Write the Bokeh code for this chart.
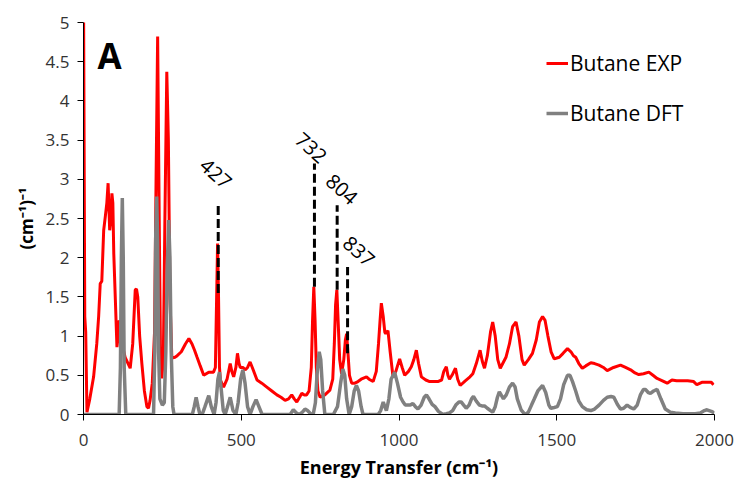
import math
from bokeh.plotting import figure
from bokeh.models import Range1d, FixedTicker, Legend
from bokeh.core.properties import value
from bokeh.embed import file_html
from bokeh.resources import INLINE

# ---------------- data ----------------
exp_x = [0, 4, 7, 11, 20, 32, 42, 48, 53, 58, 64, 69, 74, 78, 83, 87, 90, 93, 96, 101, 106, 110, 113, 118, 125,
         132, 148, 156, 164, 168, 172, 178, 185, 193, 201, 206, 211, 218, 225, 230, 235, 240, 244, 248, 253,
         258, 264, 269, 274, 280, 290, 297, 310, 323, 334, 344, 352, 360, 370, 381, 397, 412, 418, 422, 425,
         428, 431, 434, 444, 455, 465, 470, 476, 483, 488, 493, 497, 505, 513, 520, 528, 535, 550, 565, 581,
         597, 613, 626, 639, 650, 660, 668, 676, 685, 692, 700, 707, 715, 722, 726, 730, 734, 738, 743, 750,
         765, 781, 790, 795, 799, 803, 807, 812, 818, 825, 830, 834, 838, 843, 850, 860, 870, 880, 897, 905,
         918, 928, 935, 940, 944, 950, 955, 958, 965, 972, 981, 990, 1002, 1010, 1018, 1030, 1039, 1047, 1055,
         1062, 1071, 1085, 1097, 1110, 1123, 1135, 1142, 1150, 1155, 1160, 1168, 1179, 1186, 1194, 1210, 1225,
         1234, 1245, 1257, 1264, 1271, 1280, 1290, 1297, 1305, 1313, 1321, 1330, 1339, 1350, 1360, 1371, 1380,
         1390, 1397, 1410, 1423, 1435, 1445, 1455, 1463, 1472, 1482, 1492, 1500, 1508, 1520, 1534, 1545, 1553,
         1560, 1570, 1581, 1592, 1608, 1620, 1634, 1648, 1660, 1680, 1702, 1718, 1734, 1748, 1760, 1775, 1792,
         1805, 1818, 1835, 1850, 1865, 1880, 1897, 1915, 1934, 1944, 1960, 1981, 1990, 1997]
exp_y = [5.5, 1.25, 1.05, 0.03, 0.2, 0.48, 0.9, 1.25, 1.67, 1.7, 2.35, 2.52, 2.7, 2.95, 2.35, 2.5, 2.82, 2.7, 2.05,
         1.46, 0.86, 1.0, 1.2, 1.1, 0.85, 0.73, 0.59, 0.9, 1.59, 1.6, 1.5, 1.0, 0.65, 0.3, 0.1, 0.08, 0.18, 0.4,
         1.04, 3.0, 4.82, 2.5, 0.8, 0.46, 0.7, 2.5, 4.37, 3.5, 1.5, 0.72, 0.73, 0.75, 0.8, 0.9, 0.97, 0.9, 0.82,
         0.73, 0.62, 0.5, 0.54, 0.54, 0.6, 1.5, 2.18, 1.5, 0.6, 0.44, 0.35, 0.45, 0.65, 0.55, 0.48, 0.6, 0.78,
         0.65, 0.6, 0.6, 0.57, 0.6, 0.67, 0.6, 0.44, 0.4, 0.35, 0.3, 0.25, 0.22, 0.18, 0.2, 0.25, 0.2, 0.16, 0.22,
         0.27, 0.25, 0.25, 0.3, 0.6, 1.2, 1.63, 1.2, 0.6, 0.3, 0.22, 0.25, 0.31, 0.45, 0.9, 1.4, 1.59, 1.2, 0.7,
         0.52, 0.7, 0.95, 1.03, 0.8, 0.5, 0.4, 0.4, 0.42, 0.45, 0.48, 0.45, 0.42, 0.55, 0.9, 1.2, 1.42, 1.25,
         1.05, 1.03, 1.07, 0.8, 0.48, 0.55, 0.71, 0.6, 0.5, 0.55, 0.61, 0.7, 0.82, 0.65, 0.48, 0.44, 0.42, 0.42,
         0.42, 0.44, 0.55, 0.61, 0.5, 0.45, 0.5, 0.59, 0.45, 0.37, 0.43, 0.48, 0.52, 0.65, 0.82, 0.68, 0.59,
         0.75, 1.05, 1.18, 1.0, 0.7, 0.59, 0.66, 0.73, 0.9, 1.12, 1.18, 1.0, 0.7, 0.63, 0.7, 0.78, 0.95, 1.18,
         1.25, 1.2, 1.0, 0.8, 0.71, 0.72, 0.73, 0.78, 0.84, 0.8, 0.75, 0.73, 0.65, 0.59, 0.62, 0.66, 0.65, 0.63,
         0.6, 0.56, 0.6, 0.63, 0.6, 0.57, 0.53, 0.51, 0.52, 0.54, 0.5, 0.46, 0.43, 0.4, 0.44, 0.43, 0.43, 0.43,
         0.42, 0.38, 0.41, 0.41, 0.41, 0.38]

dft_x = [0, 113, 117, 120, 123, 126, 129, 134, 222, 226, 229, 232, 235, 238, 242, 250, 256, 261, 265, 270, 274, 278,
         283, 287, 345, 351, 357, 363, 369, 378, 385, 397, 405, 414, 420, 426, 431, 437, 443, 449, 455, 465, 474,
         483, 490, 498, 505, 512, 520, 528, 537, 547, 556, 566, 655, 665, 675, 684, 694, 702, 710, 720, 728, 735,
         740, 747, 752, 758, 765, 792, 805, 815, 822, 828, 834, 842, 850, 858, 865, 872, 880, 886, 934, 942, 950,
         955, 960, 968, 975, 986, 995, 1005, 1013, 1020, 1029, 1036, 1044, 1052, 1060, 1070, 1080, 1087, 1095,
         1105, 1114, 1125, 1139, 1150, 1160, 1170, 1180, 1190, 1197, 1205, 1213, 1222, 1230, 1236, 1245, 1255,
         1263, 1271, 1280, 1290, 1297, 1305, 1312, 1318, 1325, 1331, 1340, 1350, 1360, 1368, 1375, 1387, 1395,
         1402, 1410, 1420, 1429, 1440, 1455, 1465, 1475, 1481, 1492, 1502, 1512, 1522, 1534, 1542, 1550, 1560,
         1570, 1581, 1595, 1608, 1620, 1634, 1648, 1660, 1672, 1681, 1692, 1702, 1712, 1723, 1733, 1744, 1755,
         1765, 1775, 1781, 1790, 1797, 1807, 1818, 1830, 1844, 1860, 1876, 1900, 1939, 1955, 1968, 1976, 1990,
         2000]
dft_y = [0, 0, 0.6, 2.0, 2.76, 2.0, 0.6, 0, 0, 0.8, 2.3, 2.78, 2.2, 0.8, 0.2, 0.12, 0.15, 0.8, 1.8, 2.48, 2.0,
         0.8, 0.1, 0, 0, 0.1, 0.22, 0.1, 0, 0.02, 0.1, 0.24, 0.1, 0.0, 0.15, 0.45, 0.54, 0.3, 0.05, 0.0, 0.08,
         0.22, 0.05, 0, 0.15, 0.45, 0.57, 0.4, 0.1, 0, 0.1, 0.19, 0.1, 0, 0, 0.06, 0.02, 0, 0.03, 0.07, 0.05,
         0.01, 0.0, 0.15, 0.5, 0.8, 0.7, 0.3, 0.0, 0, 0.1, 0.4, 0.58, 0.5, 0.2, 0.0, 0.1, 0.3, 0.37, 0.3, 0.1,
         0, 0, 0.05, 0.16, 0.1, 0.05, 0.2, 0.45, 0.54, 0.4, 0.22, 0.16, 0.12, 0.12, 0.12, 0.14, 0.1, 0.07, 0.12,
         0.22, 0.25, 0.2, 0.13, 0.1, 0.04, 0.0, 0.01, 0.02, 0.05, 0.12, 0.16, 0.16, 0.12, 0.08, 0.12, 0.2, 0.23,
         0.17, 0.12, 0.11, 0.11, 0.08, 0.05, 0.03, 0.1, 0.22, 0.29, 0.24, 0.2, 0.25, 0.35, 0.4, 0.35, 0.2, 0.06,
         0.02, 0, 0.03, 0.12, 0.2, 0.3, 0.37, 0.28, 0.12, 0.08, 0.09, 0.1, 0.2, 0.38, 0.5, 0.5, 0.42, 0.3, 0.17,
         0.1, 0.06, 0.05, 0.07, 0.12, 0.18, 0.22, 0.23, 0.22, 0.13, 0.07, 0.08, 0.12, 0.09, 0.07, 0.12, 0.25,
         0.32, 0.32, 0.28, 0.27, 0.3, 0.32, 0.2, 0.07, 0.03, 0.02, 0.01, 0.01, 0.02, 0.05, 0.06, 0.04, 0.02]

series_names = ["Butane EXP", "Butane DFT"]

# annotated peaks (cm-1) and dashed marker spans (intensity)
ann_labels = ["427", "732", "804", "837"]
ann_x = [427, 732, 804, 837]
ann_top = [2.67, 3.2, 2.67, 1.88]
ann_bottom = [1.55, 1.63, 1.59, 0.78]

x_ticks = [0, 500, 1000, 1500, 2000]
y_ticks = [0, 0.5, 1, 1.5, 2, 2.5, 3, 3.5, 4, 4.5, 5]
y_tick_labels = ["0", "0.5", "1", "1.5", "2", "2.5", "3", "3.5", "4", "4.5", "5"]

# ---------------- layout ----------------
FONT = "Open Sans"
label_x = [419, 721, 818, 872]
label_y = [3.07, 3.40, 2.87, 2.08]

p = figure(width=738, height=483, x_range=Range1d(0, 2000), y_range=Range1d(0, 5),
           output_backend="svg", toolbar_location=None,
           min_border_left=83, min_border_right=24, min_border_top=22, min_border_bottom=69)
p.outline_line_color = None
p.grid.visible = False
p.background_fill_color = "white"
p.border_fill_color = "white"

r_exp = p.line(exp_x, exp_y, line_color="#FF0000", line_width=3)
r_dft = p.line(dft_x, dft_y, line_color="#808080", line_width=3.5)

p.segment(x0=ann_x, y0=ann_bottom, x1=ann_x, y1=ann_top, line_color="black",
          line_width=3, line_dash="9 4")
p.text(x=label_x, y=label_y, text=ann_labels, angle=-42 * math.pi / 180,
       text_align="center", text_baseline="middle", text_font=value(FONT),
       text_font_size="20px", text_color="black")
p.text(x=[44], y=[4.58], text=["A"], text_align="left", text_baseline="alphabetic",
       text_font=value(FONT), text_font_size="35px", text_font_style="bold", text_color="black")

for ax in (p.xaxis[0], p.yaxis[0]):
    ax.axis_line_color = "black"
    ax.axis_line_width = 1
    ax.major_tick_line_color = "black"
    ax.major_tick_in = 0
    ax.major_tick_out = 6
    ax.minor_tick_line_color = None
    ax.major_label_text_font = FONT
    ax.major_label_text_font_size = "17px"
    ax.major_label_text_color = "#333333"
    ax.axis_label_text_font = FONT
    ax.axis_label_text_font_style = "bold"
    ax.axis_label_text_color = "black"

p.xaxis.ticker = FixedTicker(ticks=x_ticks)
p.yaxis.ticker = FixedTicker(ticks=y_ticks)
p.yaxis.major_label_overrides = {t: l for t, l in zip(y_ticks, y_tick_labels)}
p.xaxis.axis_label = "Energy Transfer (cm\u207b\u00b9)"
p.yaxis.axis_label = "(cm\u207b\u00b9)\u207b\u00b9"
p.xaxis.axis_label_text_font_size = "18px"
p.yaxis.axis_label_text_font_size = "17px"
p.xaxis.major_label_standoff = 13
p.yaxis.major_label_standoff = 8
p.xaxis.axis_label_standoff = 6
p.yaxis.axis_label_standoff = 5

legend = Legend(items=[(series_names[0], [r_exp]), (series_names[1], [r_dft])],
                location=(463, 287), border_line_color=None, background_fill_alpha=0,
                padding=0, margin=0, glyph_width=22, glyph_height=24, label_height=24,
                label_standoff=2, spacing=22, label_text_font=FONT, label_text_font_size="21px",
                label_text_color="black")
p.add_layout(legend)

open("out.html", "w").write(file_html(p, INLINE))
